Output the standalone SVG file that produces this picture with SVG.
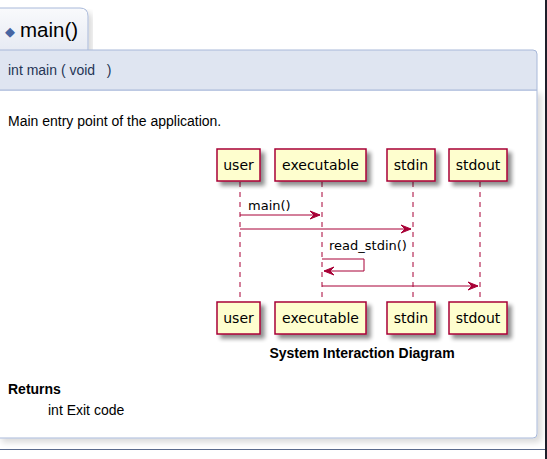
<svg xmlns="http://www.w3.org/2000/svg" width="547" height="459" viewBox="0 0 547 459">
<style>
.doc{font-family:"Liberation Sans",Arial,sans-serif;fill:#000}
.p{fill:#FEFECE;stroke:#A80036;stroke-width:1.5}
.pt{font-family:"DejaVu Sans",sans-serif;font-size:14px;fill:#000;text-anchor:middle}
.ml{font-family:"DejaVu Sans",sans-serif;font-size:13px;fill:#000}
.life{stroke:#A80036;stroke-width:1;stroke-dasharray:5,5;fill:none}
.msg{stroke:#A80036;stroke-width:1;fill:none}
.ah{fill:#A80036;stroke:#A80036;stroke-width:1}
</style>
<defs>
<filter id="sh" x="-20%" y="-20%" width="150%" height="150%">
<feGaussianBlur in="SourceAlpha" stdDeviation="2"/>
<feOffset dx="4" dy="4" result="b"/>
<feComponentTransfer><feFuncA type="linear" slope="0.45"/></feComponentTransfer>
<feMerge><feMergeNode/><feMergeNode in="SourceGraphic"/></feMerge>
</filter>
<filter id="bsh" x="-5%" y="-5%" width="110%" height="110%">
<feGaussianBlur in="SourceAlpha" stdDeviation="3"/>
<feOffset dx="4" dy="4"/>
<feComponentTransfer><feFuncA type="linear" slope="0.15"/></feComponentTransfer>
<feMerge><feMergeNode/><feMergeNode in="SourceGraphic"/></feMerge>
</filter>
<linearGradient id="tabg" x1="0" y1="0" x2="0" y2="1">
<stop offset="0" stop-color="#F9FAFC"/><stop offset="1" stop-color="#E6EAF3"/>
</linearGradient>
</defs>
<rect width="547" height="459" fill="#FFFFFF"/>
<g id="doc-frame">
<path d="M-2,8 H80 Q88,8 88,16 V52 H-2 Z" fill="url(#tabg)" stroke="#A8B8D9" stroke-width="1" filter="url(#bsh)"/>
<text x="5" y="36" font-family="DejaVu Sans,sans-serif" font-size="13" fill="#4665A2">◆</text>
<text class="doc" x="20" y="37" font-size="20.5">main()</text>
<path d="M-2,90 H537 V434 Q537,438 533,438 H-2 Z" fill="#FFFFFF" stroke="#A8B8D9" stroke-width="1" filter="url(#bsh)"/>
<path d="M-2,50 H533 Q537,50 537,54 V90 H-2 Z" fill="#DFE5F1" stroke="#A8B8D9" stroke-width="1"/>
<text class="doc" x="8" y="75" font-size="14" xml:space="preserve" style="fill:#253555">int main ( void   )</text>
<text class="doc" x="8" y="126" font-size="14">Main entry point of the application.</text>
<text class="doc" x="362" y="358" font-size="14" font-weight="bold" text-anchor="middle">System Interaction Diagram</text>
<text class="doc" x="8" y="394" font-size="14" font-weight="bold">Returns</text>
<text class="doc" x="48" y="415" font-size="14">int Exit code</text>
<line x1="0" y1="449.5" x2="545" y2="449.5" stroke="#5A6A8C" stroke-width="1"/>
<rect x="545" y="0" width="2" height="459" fill="#1E1E2A"/>
</g>
<g id="connectors">
<line class="life" x1="240" y1="182" x2="240" y2="302"/>
<line class="life" x1="322" y1="182" x2="322" y2="302"/>
<line class="life" x1="413" y1="182" x2="413" y2="302"/>
<line class="life" x1="480" y1="182" x2="480" y2="302"/>
<line class="msg" x1="240" y1="215" x2="320" y2="215"/>
<polygon class="ah" points="310,211 320,215 310,219 314,215"/>
<text class="ml" x="248" y="210">main()</text>
<line class="msg" x1="240" y1="229" x2="411" y2="229"/>
<polygon class="ah" points="401,225 411,229 401,233 405,229"/>
<polyline class="msg" points="322,259 364,259 364,271 324,271"/>
<polygon class="ah" points="334,267 324,271 334,275 330,271"/>
<text class="ml" x="329" y="250">read_stdin()</text>
<line class="msg" x1="322" y1="286" x2="478" y2="286"/>
<polygon class="ah" points="468,282 478,286 468,290 472,286"/>
</g>
<g id="user">
<rect class="p" x="217" y="149" width="43" height="32" filter="url(#sh)"/>
<text class="pt" x="238.5" y="170">user</text>
<rect class="p" x="217" y="302" width="43" height="32" filter="url(#sh)"/>
<text class="pt" x="238.5" y="323">user</text>
</g>
<g id="executable">
<rect class="p" x="275" y="149" width="91" height="32" filter="url(#sh)"/>
<text class="pt" x="320.5" y="170">executable</text>
<rect class="p" x="275" y="302" width="91" height="32" filter="url(#sh)"/>
<text class="pt" x="320.5" y="323">executable</text>
</g>
<g id="stdin">
<rect class="p" x="387" y="149" width="48" height="32" filter="url(#sh)"/>
<text class="pt" x="411" y="170">stdin</text>
<rect class="p" x="387" y="302" width="48" height="32" filter="url(#sh)"/>
<text class="pt" x="411" y="323">stdin</text>
</g>
<g id="stdout">
<rect class="p" x="449" y="149" width="58" height="32" filter="url(#sh)"/>
<text class="pt" x="478" y="170">stdout</text>
<rect class="p" x="449" y="302" width="58" height="32" filter="url(#sh)"/>
<text class="pt" x="478" y="323">stdout</text>
</g>
</svg>
